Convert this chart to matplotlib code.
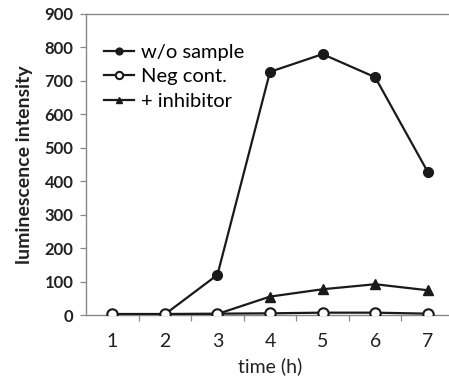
import matplotlib
matplotlib.use("Agg")
import matplotlib.pyplot as plt
from matplotlib.ticker import FixedLocator, NullFormatter

time_h = [1, 2, 3, 4, 5, 6, 7]
wo_sample = [0, 2, 120, 727, 780, 711, 428]
neg_cont = [3, 3, 4, 5, 7, 7, 4]
inhibitor = [0, 0, 3, 55, 77, 92, 74]
y_ticks = [0, 100, 200, 300, 400, 500, 600, 700, 800, 900]

plt.rcParams['font.family'] = ['Lato', 'DejaVu Sans']

fig = plt.figure(figsize=(4.49, 3.8), dpi=100)
ax = fig.add_axes([86/449, 1-315/380, 368/449, 301/380])

lc = '#1a1a1a'
ax.plot(time_h, wo_sample, '-o', color=lc, lw=1.6, ms=7, label='w/o sample', zorder=3)
ax.plot(time_h, neg_cont, '-o', color=lc, mfc='white', mec=lc, mew=1.5, lw=1.6, ms=7.5, label='Neg cont.', zorder=4)
ax.plot(time_h, inhibitor, '-^', color=lc, lw=1.6, ms=7, label='+ inhibitor', zorder=2)

ax.set_xlim(0.5, 7.5)
ax.set_ylim(0, 900)
ax.set_yticks(y_ticks)
ax.set_xticks(time_h)
ax.tick_params(axis='x', length=0, labelsize=14, pad=13, colors='#222222')
ax.xaxis.set_minor_locator(FixedLocator([x + 0.5 for x in time_h[:-1]]))
ax.xaxis.set_minor_formatter(NullFormatter())
ax.tick_params(axis='x', which='minor', length=4, color='#888888', width=0.9)
ax.tick_params(axis='y', length=4, color='#888888', width=0.9, labelsize=12, pad=5)
for lab in ax.get_yticklabels():
    lab.set_fontweight('bold')
    lab.set_color('#222222')

for s in ['left', 'top', 'bottom', 'right']:
    ax.spines[s].set_color('#888888')
    ax.spines[s].set_linewidth(1.0)

ax.set_xlabel('time (h)', fontsize=14, color='#222222', labelpad=5)
ax.set_ylabel('luminescence intensity', fontsize=14, fontweight='bold', color='#222222', labelpad=8)

leg = ax.legend(loc='upper left', bbox_to_anchor=(0.0, 0.96), frameon=False, fontsize=14.5,
                handlelength=1.5, handletextpad=0.35, labelspacing=0.35, markerscale=0.7)

fig.savefig('out.png', dpi=100)
